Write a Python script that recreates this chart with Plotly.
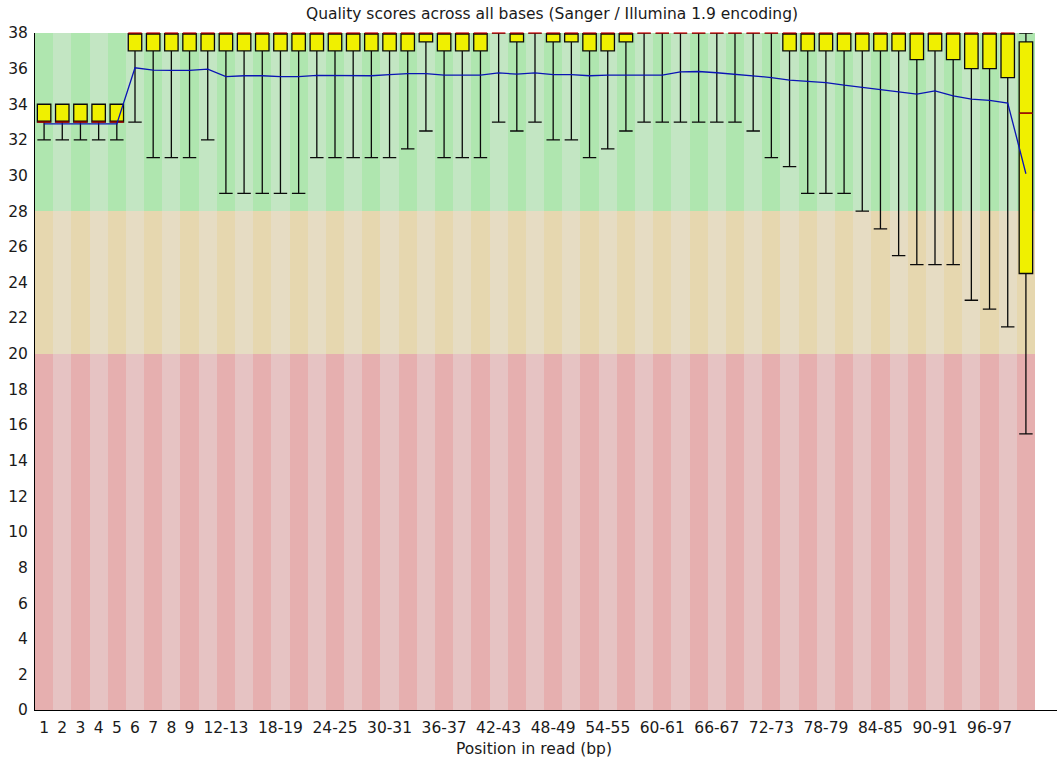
import plotly.graph_objects as go

# ---------------- data ----------------
positions = ["1", "2", "3", "4", "5", "6", "7", "8", "9",
             "10-11", "12-13", "14-15", "16-17", "18-19", "20-21", "22-23", "24-25",
             "26-27", "28-29", "30-31", "32-33", "34-35", "36-37", "38-39", "40-41",
             "42-43", "44-45", "46-47", "48-49", "50-51", "52-53", "54-55", "56-57",
             "58-59", "60-61", "62-63", "64-65", "66-67", "68-69", "70-71", "72-73",
             "74-75", "76-77", "78-79", "80-81", "82-83", "84-85", "86-87", "88-89",
             "90-91", "92-93", "94-95", "96-97", "98-99", "100-101"]

tick_labels = ["1", "2", "3", "4", "5", "6", "7", "8", "9", "12-13", "18-19", "24-25",
               "30-31", "36-37", "42-43", "48-49", "54-55", "60-61", "66-67", "72-73",
               "78-79", "84-85", "90-91", "96-97"]

lower_whisker = [32, 32, 32, 32, 32, 33, 31, 31, 31, 32,
                 29, 29, 29, 29, 29, 31, 31, 31, 31, 31,
                 31.5, 32.5, 31, 31, 31, 33, 32.5, 33, 32, 32,
                 31, 31.5, 32.5, 33, 33, 33, 33, 33, 33, 32.5,
                 31, 30.5, 29, 29, 29, 28, 27, 25.5, 25, 25,
                 25, 23, 22.5, 21.5, 15.5]

lower_quartile = [33, 33, 33, 33, 33, 37, 37, 37, 37, 37,
                  37, 37, 37, 37, 37, 37, 37, 37, 37, 37,
                  37, 37.5, 37, 37, 37, 38, 37.5, 38, 37.5, 37.5,
                  37, 37, 37.5, 38, 38, 38, 38, 38, 38, 38,
                  38, 37, 37, 37, 37, 37, 37, 37, 36.5, 37,
                  36.5, 36, 36, 35.5, 24.5]

median = [33, 33, 33, 33, 33, 38, 38, 38, 38, 38,
          38, 38, 38, 38, 38, 38, 38, 38, 38, 38,
          38, 38, 38, 38, 38, 38, 38, 38, 38, 38,
          38, 38, 38, 38, 38, 38, 38, 38, 38, 38,
          38, 38, 38, 38, 38, 38, 38, 38, 38, 38,
          38, 38, 38, 38, 33.5]

upper_quartile = [34, 34, 34, 34, 34, 38, 38, 38, 38, 38,
                  38, 38, 38, 38, 38, 38, 38, 38, 38, 38,
                  38, 38, 38, 38, 38, 38, 38, 38, 38, 38,
                  38, 38, 38, 38, 38, 38, 38, 38, 38, 38,
                  38, 38, 38, 38, 38, 38, 38, 38, 38, 38,
                  38, 38, 38, 38, 37.5]

upper_whisker = [34, 34, 34, 34, 34, 38, 38, 38, 38, 38,
                 38, 38, 38, 38, 38, 38, 38, 38, 38, 38,
                 38, 38, 38, 38, 38, 38, 38, 38, 38, 38,
                 38, 38, 38, 38, 38, 38, 38, 38, 38, 38,
                 38, 38, 38, 38, 38, 38, 38, 38, 38, 38,
                 38, 38, 38, 38, 38]

mean_quality = [32.9, 32.9, 32.9, 32.9, 32.9, 36.05, 35.92, 35.9, 35.9, 35.97,
                35.55, 35.6, 35.6, 35.55, 35.55, 35.62, 35.62, 35.6, 35.6, 35.66,
                35.72, 35.72, 35.63, 35.63, 35.63, 35.76, 35.69, 35.76, 35.66, 35.66,
                35.6, 35.63, 35.63, 35.63, 35.63, 35.82, 35.84, 35.77, 35.69, 35.61,
                35.5, 35.35, 35.3, 35.22, 35.07, 34.94, 34.83, 34.72, 34.57, 34.75,
                34.47, 34.29, 34.22, 34.07, 30.1]

zone_bounds = [0, 20, 28, 38]                       # poor / reasonable / good
zone_light = ["rgb(230,195,195)", "rgb(230,220,195)", "rgb(195,230,195)"]
zone_dark = ["rgb(230,175,175)", "rgb(230,215,175)", "rgb(175,230,175)"]

y_ticks = list(range(0, 39, 2))

# ---------------- figure ----------------
idx = list(range(len(positions)))
fig = go.Figure()

# striped quality zones
for z in range(3):
    fig.add_trace(go.Bar(
        x=idx,
        y=[zone_bounds[z + 1] - zone_bounds[z]] * len(idx),
        base=[zone_bounds[z]] * len(idx),
        width=1,
        marker=dict(color=[zone_dark[z] if i % 2 == 0 else zone_light[z] for i in idx],
                    line=dict(width=0)),
        hoverinfo="skip", showlegend=False,
    ))

fig.add_trace(go.Box(
    x=idx,
    q1=lower_quartile, median=median, q3=upper_quartile,
    lowerfence=lower_whisker, upperfence=upper_whisker,
    width=0.74, whiskerwidth=1,
    fillcolor="rgb(240,240,0)",
    line=dict(color="rgb(10,10,10)", width=1.3),
    boxpoints=False, showlegend=False, hoverinfo="skip",
))

# red median marks
fig.add_trace(go.Scatter(
    x=idx, y=median, mode="markers", cliponaxis=False,
    marker=dict(symbol="line-ew", size=9.6,
                line=dict(color="rgb(200,0,0)", width=1.2)),
    showlegend=False, hoverinfo="skip",
))

# blue mean line
fig.add_trace(go.Scatter(
    x=idx, y=mean_quality, mode="lines",
    line=dict(color="rgb(10,20,180)", width=1.3),
    showlegend=False, hoverinfo="skip",
))

font_family = "DejaVu Sans"
fig.update_layout(
    width=1057, height=761,
    margin=dict(l=35, r=0, t=33, b=51),
    paper_bgcolor="white", plot_bgcolor="white",
    barmode="overlay", bargap=0,
    hovermode=False,
    font=dict(family=font_family, size=15, color="#1a1a1a"),
    xaxis=dict(
        range=[-0.5, 55.71],
        tickmode="array",
        tickvals=[positions.index(t) for t in tick_labels],
        ticktext=tick_labels,
        ticks="outside", ticklen=3, tickcolor="rgba(0,0,0,0)",
        tickfont=dict(size=15.5),
        showline=True, linecolor="black", linewidth=1,
        showgrid=False, zeroline=False, fixedrange=True,
    ),
    yaxis=dict(
        range=[0, 38],
        tickmode="array", tickvals=y_ticks,
        ticks="outside", ticklen=3, tickcolor="rgba(0,0,0,0)",
        tickfont=dict(size=15.5),
        showline=True, linecolor="black", linewidth=1,
        showgrid=False, zeroline=False, fixedrange=True,
    ),
    annotations=[
        dict(text="Quality scores across all bases (Sanger / Illumina 1.9 encoding)",
             xref="paper", yref="paper", x=0.506, y=1 + 19 / 677,
             xanchor="center", yanchor="middle", showarrow=False,
             font=dict(size=15.5, family=font_family, color="#1a1a1a")),
        dict(text="Position in read (bp)",
             xref="paper", yref="paper", x=0.488, y=-39 / 677,
             xanchor="center", yanchor="middle", showarrow=False,
             font=dict(size=15.5, family=font_family, color="#1a1a1a")),
    ],
)

fig.write_html("out.html")
